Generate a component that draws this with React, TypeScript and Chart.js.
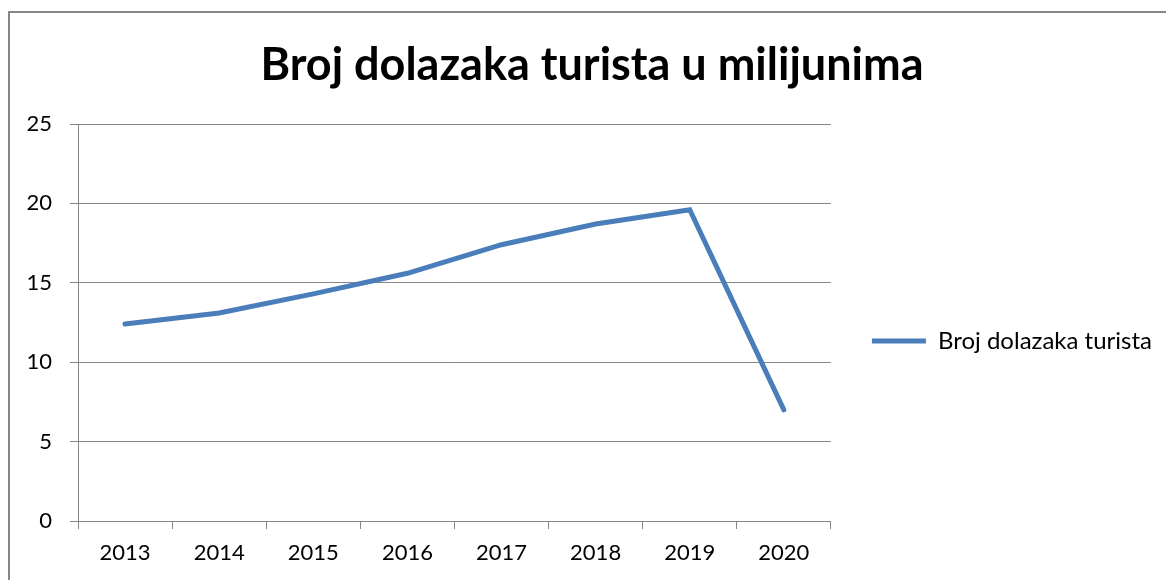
import React, { useEffect, useRef } from "react";
import { Chart, registerables } from "chart.js";

Chart.register(...registerables);

const categories = ["2013", "2014", "2015", "2016", "2017", "2018", "2019", "2020"];
const arrivals = [12.4, 13.1, 14.3, 15.6, 17.4, 18.7, 19.6, 7.0];
const seriesName = "Broj dolazaka turista";
const titleText = "Broj dolazaka turista u milijunima";
const yMin = 0;
const yMax = 25;
const yStep = 5;

const FONT = "Lato, 'Open Sans', sans-serif";
const GRID = "#868686";
const LINE = "#4A7EBB";

const framePlugin = {
  id: "frame",
  beforeDraw(chart: any) {
    const ctx = chart.ctx;
    ctx.save();
    ctx.fillStyle = "#ffffff";
    ctx.fillRect(0, 0, chart.width, chart.height);
    ctx.strokeStyle = GRID;
    ctx.lineWidth = 2;
    ctx.strokeRect(9, 12, 1400, 800);
    ctx.restore();
  },
};

// centre the legend vertically on the same line as the reference
const legendShift = {
  id: "legendShift",
  afterLayout(chart: any) {
    const lg = chart.legend;
    if (!lg) return;
    const target = 341;
    const d = target - (lg.top + lg.bottom) / 2;
    lg.top += d;
    lg.bottom += d;
  },
};

export default function App() {
  const ref = useRef<HTMLCanvasElement | null>(null);

  useEffect(() => {
    if (!ref.current) return;
    const chart = new Chart(ref.current, {
      type: "line",
      data: {
        labels: categories,
        datasets: [
          {
            label: seriesName,
            data: arrivals,
            borderColor: LINE,
            backgroundColor: LINE,
            borderWidth: 5,
            pointRadius: 0,
            pointHoverRadius: 0,
            tension: 0,
            borderCapStyle: "round",
            fill: false,
            pointStyle: "line",
          },
        ],
      },
      options: {
        animation: false,
        responsive: false,
        maintainAspectRatio: false,
        devicePixelRatio: 1,
        layout: { padding: { left: 22, right: 4, top: 0, bottom: 0 } },
        plugins: {
          title: {
            display: true,
            text: titleText,
            color: "#000000",
            font: { family: FONT, size: 45, weight: "bold" },
            padding: { top: 38, bottom: 32 },
          },
          legend: {
            display: true,
            position: "right",
            align: "center",
            maxWidth: 500,
            labels: {
              usePointStyle: true,
              pointStyle: "line",
              pointStyleWidth: 54,
              padding: 41,
              color: "#000000",
              font: { family: FONT, size: 24 },
            },
          },
          tooltip: { enabled: false },
        },
        scales: {
          x: {
            type: "category",
            offset: true,
            grid: {
              offset: true,
              drawOnChartArea: false,
              drawTicks: true,
              tickLength: 8,
              color: GRID,
            },
            border: { display: true, color: GRID, width: 1 },
            ticks: {
              color: "#000000",
              font: { family: FONT, size: 22 },
              padding: 11,
              maxRotation: 0,
              autoSkip: false,
            },
            afterFit(scale: any) {
              scale.height = 59;
            },
          },
          y: {
            min: yMin,
            max: yMax,
            grid: { color: GRID, tickLength: 8, drawTicks: true },
            border: { display: true, color: GRID, width: 1 },
            ticks: {
              stepSize: yStep,
              color: "#000000",
              font: { family: FONT, size: 22 },
              padding: 18,
            },
            afterFit(scale: any) {
              scale.width = 56;
            },
          },
        },
      },
      plugins: [framePlugin, legendShift],
    } as any);
    return () => chart.destroy();
  }, []);

  return (
    <div style={{ position: "absolute", left: 0, top: 0, width: 1166, height: 580, overflow: "hidden", background: "#fff" }}>
      <canvas ref={ref} width={1166} height={580} style={{ display: "block", width: 1166, height: 580 }} />
    </div>
  );
}
